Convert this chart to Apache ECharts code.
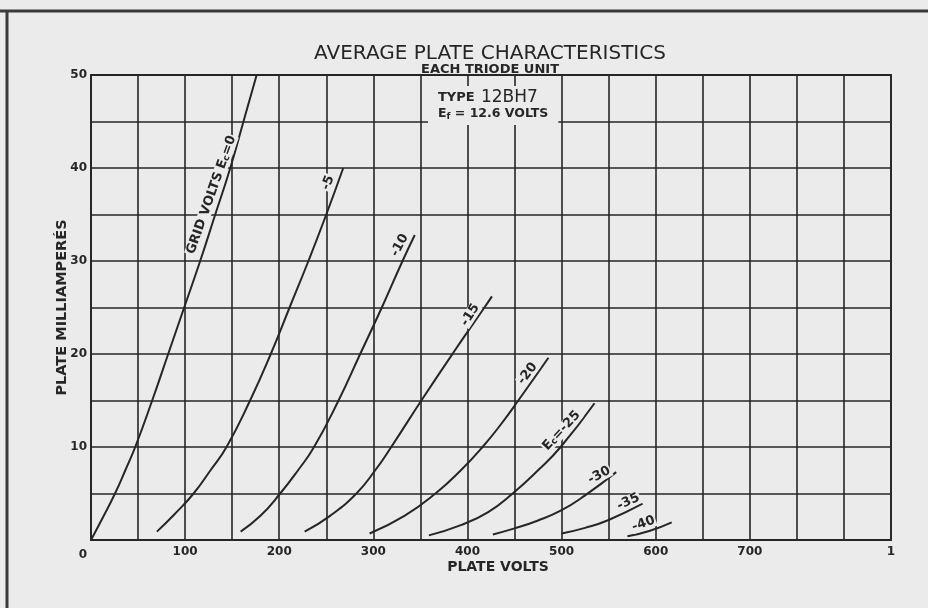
<!DOCTYPE html>
<html>
<head>
<meta charset="utf-8">
<title>12BH7 Average Plate Characteristics</title>
<script src="https://cdn.jsdelivr.net/npm/echarts@6/dist/echarts.min.js"></script>
<style>
  html, body { margin: 0; padding: 0; background: #ebebeb; }
  #chart { width: 928px; height: 608px; }
</style>
</head>
<body>
<div id="chart"></div>
<script>
// Plate current (mA) vs plate voltage (V), one curve per grid voltage Ec
const ec0  = [[0,0],[13,2.5],[25.5,5],[36.5,7.5],[47,10],[65,15],[82,20],[99,25],[116,30],[132,35],[148,40],[162,45],[176,50]];
const ec5  = [[70,0.9],[89,2.8],[109,5],[127,7.5],[144,10],[169,15],[191,20],[211,25],[231,30],[250,35],[268,40]];
const ec10 = [[159,0.9],[180,2.6],[201,5],[220,7.5],[237,10],[263,15],[286,20],[309,25],[331,30],[344,32.8]];
const ec15 = [[227,0.9],[254,2.6],[282,5],[302,7.5],[319,10],[351,15],[384,20],[418,25],[426,26.2]];
const ec20 = [[296,0.7],[333,2.6],[366,5],[393,7.5],[416,10],[436,12.5],[454,15],[486,19.6]];
const ec25 = [[359,0.5],[393,1.6],[422,3],[448,5],[475,7.5],[499,10],[535,14.7]];
const ec30 = [[427,0.6],[450,1.25],[475,2.1],[500,3.2],[525,4.8],[558,7.3]];
const ec35 = [[500,0.7],[525,1.3],[550,2.15],[586,3.9]];
const ec40 = [[570,0.4],[594,1.0],[617,1.9]];

const curves = [ec0, ec5, ec10, ec15, ec20, ec25, ec30, ec35, ec40];
const curveNames = ['Ec=0', 'Ec=-5', 'Ec=-10', 'Ec=-15', 'Ec=-20', 'Ec=-25', 'Ec=-30', 'Ec=-35', 'Ec=-40'];

// Curve captions: anchor point [plate volts, plate mA] and caption text
const captionAnchors = [[128,37.1],[252,38.4],[328,31.7],[403,24.2],[464,17.9],[500,11.75],[540,6.95],[571,4.1],[587,1.75]];
const captionTexts = ['{a|GRID VOLTS E}{s|c}{a|=0}', '-5', '-10', '-15', '-20', '{a|E}{s|c}{a|=-25}', '-30', '-35', '-40'];
const captionAngles = [70.4, 68, 62, 57, 53, 47, 28, 25, 20];

// Axis ticks
const xTickValues = [0, 100, 200, 300, 400, 500, 600, 700, 850];
const xTickText = ['0', '100', '200', '300', '400', '500', '600', '700', '1'];
const yTickValues = [10, 20, 30, 40, 50];

const INK = '#262626';
const BG = '#ebebeb';
const FONT = "'DejaVu Sans', sans-serif";

const chart = echarts.init(document.getElementById('chart'), null, { renderer: 'canvas' });

const lineSeries = curves.map((pts, k) => ({
  name: curveNames[k],
  type: 'line',
  data: pts,
  smooth: 0.5,
  symbol: 'none',
  lineStyle: { color: INK, width: 2 },
  z: 3,
  silent: true
}));

const captionSeries = {
  type: 'scatter',
  symbolSize: 0,
  silent: true,
  z: 5,
  itemStyle: { opacity: 1 },
  data: captionAnchors.map((p, k) => ({
    value: p,
    label: {
      show: true,
      position: 'inside',
      rotate: captionAngles[k],
      formatter: captionTexts[k],
      color: INK,
      fontFamily: FONT,
      fontWeight: 'bold',
      fontSize: 13,
      backgroundColor: BG,
      padding: [0, 1],
      rich: {
        a: { fontFamily: FONT, fontWeight: 'bold', fontSize: 13, color: INK },
        s: { fontFamily: FONT, fontWeight: 'bold', fontSize: 9, color: INK, verticalAlign: 'bottom' }
      }
    }
  }))
};

const option = {
  backgroundColor: BG,
  animation: false,
  title: [
    {
      text: 'AVERAGE PLATE CHARACTERISTICS',
      subtext: 'EACH TRIODE UNIT',
      left: 490,
      top: 44,
      textAlign: 'center',
      itemGap: 0,
      padding: 0,
      textStyle: { fontFamily: FONT, fontSize: 20, fontWeight: 'normal', color: INK, lineHeight: 20 },
      subtextStyle: { fontFamily: FONT, fontSize: 13, fontWeight: 'bold', color: INK, lineHeight: 11 }
    },
    {
      text: '{t|TYPE} {n|12BH7}\n{e|E}{f|f}{e| = 12.6 VOLTS}',
      left: 428,
      top: 86,
      padding: [3, 10, 4, 10],
      backgroundColor: BG,
      textStyle: {
        fontFamily: FONT,
        color: INK,
        rich: {
          t: { fontFamily: FONT, fontSize: 13, fontWeight: 'bold', color: INK, lineHeight: 16 },
          n: { fontFamily: FONT, fontSize: 17, fontWeight: 'normal', color: INK, lineHeight: 16 },
          e: { fontFamily: FONT, fontSize: 12.5, fontWeight: 'bold', color: INK, lineHeight: 14 },
          f: { fontFamily: FONT, fontSize: 9, fontWeight: 'bold', color: INK, verticalAlign: 'bottom', lineHeight: 14 }
        }
      }
    }
  ],
  grid: {
    left: 91, right: 37, top: 75, bottom: 68,
    show: true, borderColor: INK, borderWidth: 1.8
  },
  xAxis: {
    type: 'value',
    min: 0, max: 850, interval: 50,
    name: 'PLATE VOLTS',
    nameLocation: 'middle',
    nameGap: 20,
    nameMoveOverlap: false,
    nameTextStyle: { fontFamily: FONT, fontSize: 14, fontWeight: 'bold', color: INK, padding: [0, 0, 0, 14] },
    axisLine: { show: true, lineStyle: { color: INK, width: 1.8 } },
    axisTick: { show: false },
    splitLine: { show: true, lineStyle: { color: INK, width: 1.6 } },
    axisLabel: {
      margin: 6,
      fontFamily: FONT, fontSize: 12, fontWeight: 'bold', color: INK,
      showMinLabel: true, showMaxLabel: true,
      formatter: v => {
        const k = xTickValues.indexOf(v);
        if (k < 0) return '';
        return v === 0 ? '{z|' + xTickText[k] + '}' : xTickText[k];
      },
      rich: { z: { fontFamily: FONT, fontSize: 12, fontWeight: 'bold', color: INK, padding: [3, 16, 0, 0] } }
    }
  },
  yAxis: {
    type: 'value',
    min: 0, max: 50, interval: 5,
    name: 'PLATE MILLIAMPERÉS',
    nameLocation: 'middle',
    nameGap: 21,
    nameMoveOverlap: false,
    nameRotate: 90,
    nameTextStyle: { fontFamily: FONT, fontSize: 14.5, fontWeight: 'bold', color: INK },
    axisLine: { show: true, lineStyle: { color: INK, width: 1.8 } },
    axisTick: { show: false },
    splitLine: { show: true, lineStyle: { color: INK, width: 1.6 } },
    axisLabel: {
      margin: 4,
      fontFamily: FONT, fontSize: 12, fontWeight: 'bold', color: INK,
      formatter: v => (yTickValues.indexOf(v) >= 0 ? String(v) : '')
    }
  },
  graphic: [
    // sheet edge rules
    { type: 'line', shape: { x1: 0, y1: 11, x2: 928, y2: 11 }, style: { stroke: '#3a3a3a', lineWidth: 3 } },
    { type: 'line', shape: { x1: 7, y1: 11, x2: 7, y2: 608 }, style: { stroke: '#3a3a3a', lineWidth: 3 } }
  ],
  series: lineSeries.concat([captionSeries])
};

chart.setOption(option);
</script>
</body>
</html>
